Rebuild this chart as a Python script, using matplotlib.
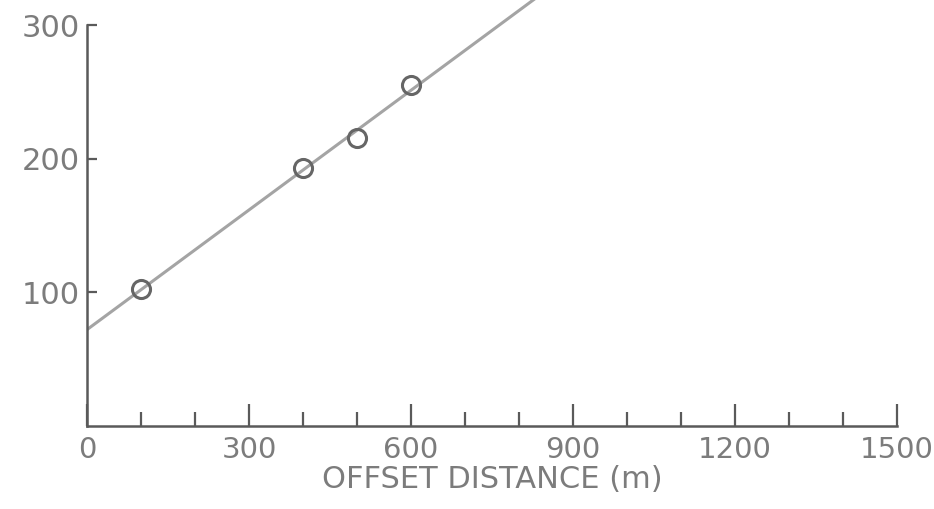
import numpy as np
import matplotlib
matplotlib.use("Agg")
import matplotlib.pyplot as plt
from matplotlib.ticker import MultipleLocator

# Measured points (offset distance vs. time)
offset_m = [100, 400, 500, 600]
value = [102.6, 193, 216, 255]
x_ticks = [0, 300, 600, 900, 1200, 1500]
y_ticks = [100, 200, 300]

# Least-squares line through the points
slope, intercept = np.polyfit(offset_m, value, 1)
x_fit = np.array([0, 900])
y_fit = intercept + slope * x_fit

ink = "#5a5a5a"
text_col = "#7c7c7c"

fig = plt.figure(figsize=(9.34, 5.09), dpi=100)
ax = fig.add_axes([87 / 934, 1 - 426 / 509, 810 / 934, 426 / 509])

ax.plot(x_fit, y_fit, color="#a4a4a4", lw=2.2, zorder=2)
ax.plot(offset_m, value, linestyle="none", marker="o", ms=13, mfc="none",
        mec="#666666", mew=2.2, zorder=3)

ax.set_xlim(0, 1500)
ax.set_ylim(0, 319)

for side in ["top", "right"]:
    ax.spines[side].set_visible(False)
for side in ["left", "bottom"]:
    ax.spines[side].set_color(ink)
    ax.spines[side].set_linewidth(1.8)
ax.spines["left"].set_bounds(0, 300)

ax.set_xticks(x_ticks)
ax.xaxis.set_minor_locator(MultipleLocator(100))
ax.set_yticks(y_ticks)

ax.tick_params(axis="x", which="major", direction="in", length=16, width=1.6,
               color=ink, labelcolor=text_col, labelsize=21, pad=7)
ax.tick_params(axis="x", which="minor", direction="in", length=10, width=1.6,
               color=ink)
ax.tick_params(axis="y", which="major", direction="in", length=7, width=1.6,
               color=ink, labelcolor=text_col, labelsize=22, pad=5)

ax.set_xlabel("OFFSET DISTANCE (m)", color=text_col, fontsize=22, labelpad=1)

fig.savefig("out.png", dpi=100)
plt.close(fig)
